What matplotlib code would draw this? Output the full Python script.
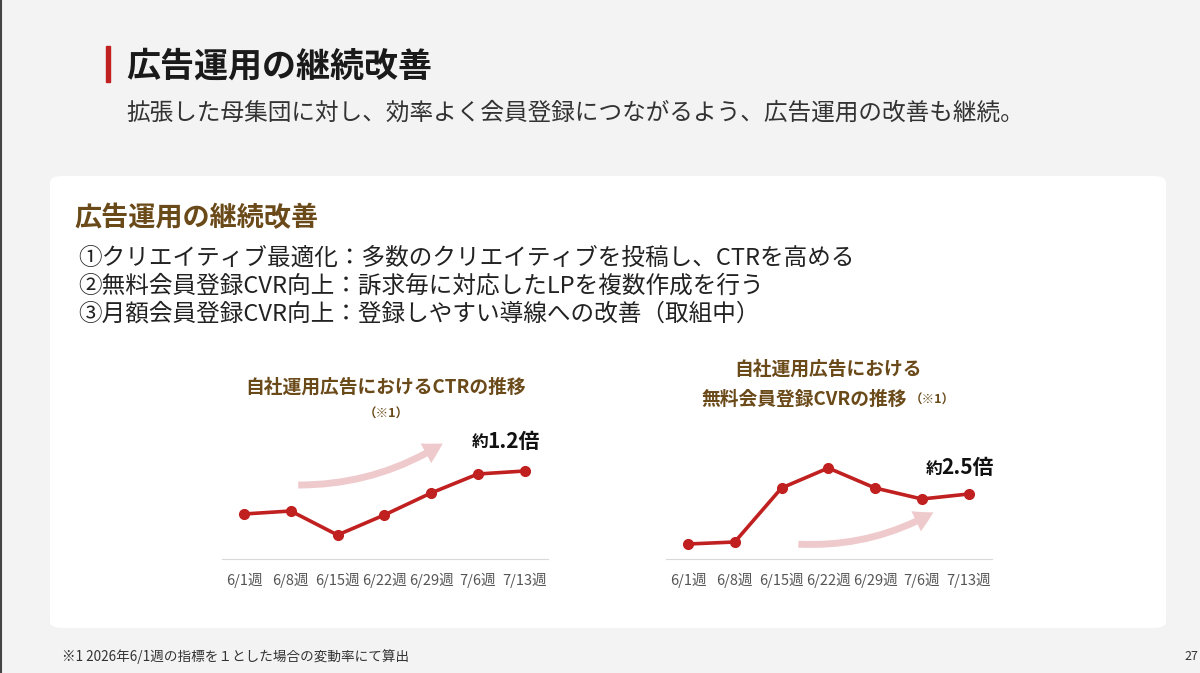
import matplotlib.pyplot as plt
import matplotlib.patches as patches

plt.rcParams['font.family'] = ['Noto Sans CJK JP', 'DejaVu Sans']

weeks = ['6/1週', '6/8週', '6/15週', '6/22週', '6/29週', '7/6週', '7/13週']
ctr_index = [45, 48, 24, 44, 66, 85, 88]
cvr_index = [15, 17, 71, 91, 71, 60, 65]

W, H = 1200, 673
RED = '#c0201f'
BROWN = '#6b4a1a'

fig = plt.figure(figsize=(12, 6.73), dpi=100, facecolor='#f3f3f3')

def fx(px):
    return px / W

def fy(py):
    return 1 - py / H

# slide frame line on the left
fig.add_artist(plt.Line2D([0.001, 0.001], [0, 1], color='#444444', lw=1.5))

# white panel (behind the axes)
panel = patches.FancyBboxPatch((fx(50), fy(628)), fx(1166) - fx(50), fy(176) - fy(628),
                               boxstyle='round,pad=0,rounding_size=0.01',
                               transform=fig.transFigure, facecolor='white', edgecolor='none',
                               zorder=-5)
fig.add_artist(panel)

# header
fig.add_artist(patches.Rectangle((fx(106), fy(82)), fx(4), fy(46) - fy(82),
                                 transform=fig.transFigure, color=RED))
fig.text(fx(126), fy(66), '広告運用の継続改善', fontsize=24.5, fontweight='bold',
         color='#1a1a1a', va='center')
fig.text(fx(126), fy(113), '拡張した母集団に対し、効率よく会員登録につながるよう、広告運用の改善も継続。',
         fontsize=17, color='#333333', va='center')

fig.text(fx(74), fy(218), '広告運用の継続改善', fontsize=19.5, fontweight='bold', color=BROWN, va='center')
items = ['①クリエイティブ最適化：多数のクリエイティブを投稿し、CTRを高める',
         '②無料会員登録CVR向上：訴求毎に対応したLPを複数作成を行う',
         '③月額会員登録CVR向上：登録しやすい導線への改善（取組中）']
for i, s in enumerate(items):
    fig.text(fx(78), fy(258 + 28 * i), s, fontsize=17, color='#222222', va='center')

def draw_chart(left, values, arrow_from, arrow_to):
    ax = fig.add_axes([fx(left), fy(559), fx(326), fy(420) - fy(559)], zorder=2)
    x = range(len(values))
    ax.plot(x, values, color=RED, lw=2.6, marker='o', ms=7, zorder=3, clip_on=False)
    ax.set_xlim(-0.47, 6.5)
    ax.set_ylim(0, 139)
    ax.patch.set_visible(False)
    for s in ['top', 'right', 'left']:
        ax.spines[s].set_visible(False)
    ax.spines['bottom'].set_color('#d9d9d9')
    ax.set_yticks([])
    ax.set_xticks(list(x))
    ax.set_xticklabels(weeks, fontsize=10.5, color='#555555')
    ax.tick_params(axis='x', length=0, pad=10)
    arr = patches.FancyArrowPatch(arrow_from, arrow_to, transform=ax.transData,
                                  connectionstyle='arc3,rad=0.15',
                                  arrowstyle='simple,head_width=16,head_length=14,tail_width=5',
                                  color='#eab9bd', alpha=0.75, lw=0, zorder=1, clip_on=False)
    ax.add_patch(arr)
    return ax

draw_chart(222, ctr_index, (1.1, 74), (4.3, 117))
fig.text(fx(472), fy(442), '約', fontsize=12, fontweight='bold', color='#111111', va='center')
fig.text(fx(487), fy(441), '1.2倍', fontsize=15, fontweight='bold', color='#111111', va='center')
draw_chart(666, cvr_index, (2.3, 15), (5.3, 48))
fig.text(fx(926), fy(469), '約', fontsize=12, fontweight='bold', color='#111111', va='center')
fig.text(fx(941), fy(468), '2.5倍', fontsize=15, fontweight='bold', color='#111111', va='center')

fig.text(fx(386), fy(387), '自社運用広告におけるCTRの推移', fontsize=13.5, fontweight='bold',
         color=BROWN, ha='center', va='center')
fig.text(fx(386), fy(414), '（※1）', fontsize=9, fontweight='bold', color=BROWN, ha='center', va='center')
fig.text(fx(828), fy(369), '自社運用広告における', fontsize=13.5, fontweight='bold',
         color=BROWN, ha='center', va='center')
fig.text(fx(804), fy(399), '無料会員登録CVRの推移', fontsize=13.5, fontweight='bold',
         color=BROWN, ha='center', va='center')
fig.text(fx(910), fy(400), '（※1）', fontsize=9, fontweight='bold', color=BROWN, ha='left', va='center')

fig.text(fx(62), fy(657), '※1 2026年6/1週の指標を１とした場合の変動率にて算出', fontsize=9.8, color='#333333', va='center')
fig.text(fx(1184), fy(657), '27', fontsize=9, color='#333333', va='center')

fig.savefig('out.png', dpi=100, facecolor=fig.get_facecolor())
